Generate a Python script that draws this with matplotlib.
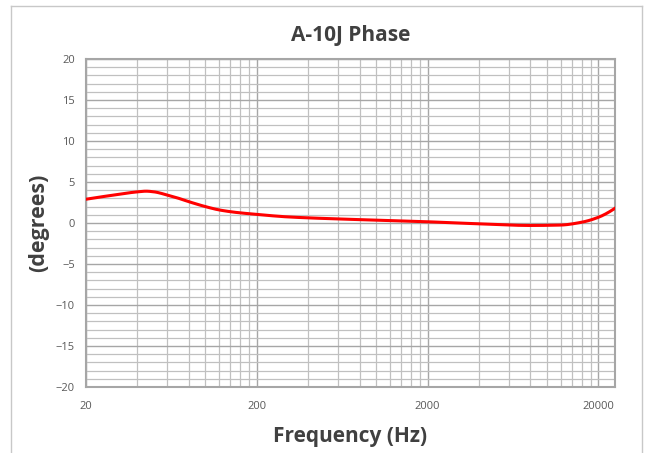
import numpy as np
import matplotlib.pyplot as plt
from matplotlib.lines import Line2D
from matplotlib.ticker import FixedLocator, NullFormatter

# phase response
freq = [20, 30, 40, 45, 50, 60, 70, 80, 100, 120, 150, 200, 300, 500,
        1000, 2000, 4000, 8000, 12000, 16000, 20000, 25000]
phase = [2.9, 3.45, 3.8, 3.88, 3.8, 3.4, 3.0, 2.6, 2.0, 1.6, 1.3, 1.05, 0.75, 0.55,
         0.35, 0.15, -0.1, -0.3, -0.25, 0.1, 0.7, 1.8]

xticks = [20, 200, 2000, 20000]
xticklabels = ["20", "200", "2000", "20000"]
yticks = [-20, -15, -10, -5, 0, 5, 10, 15, 20]

plt.rcParams['font.family'] = ['Open Sans', 'DejaVu Sans']

fig = plt.figure(figsize=(6.46, 4.53), dpi=100)
ax = fig.add_axes([86/646, 1-387/453, (615-86)/646, (387-59)/453])

# smooth curve through the read points (in log-frequency)
lf = np.log10(freq)
xs = np.linspace(lf[0], lf[-1], 400)
try:
    from scipy.interpolate import PchipInterpolator
    ys = PchipInterpolator(lf, phase)(xs)
except ImportError:
    ys = np.interp(xs, lf, phase)
ax.plot(10**xs, ys, color='#ff0000', lw=2.2, zorder=3)

ax.set_xscale('log')
ax.set_xlim(20, 25000)
ax.set_ylim(-20, 20)

# Excel-style grid: minor lines at 20*k per decade, 1 degree steps
minor_x = []
for dec in [20, 200, 2000]:
    for k in range(2, 10):
        minor_x.append(dec * k)
minor_x = [v for v in minor_x if v < 25000]
ax.xaxis.set_major_locator(FixedLocator(xticks))
ax.set_xticklabels(xticklabels)
ax.xaxis.set_minor_locator(FixedLocator(minor_x))
ax.xaxis.set_minor_formatter(NullFormatter())
ax.set_yticks(yticks)
ax.set_yticks(np.arange(-20, 21, 1), minor=True)

ax.grid(True, which='major', color='#a6a6a6', lw=1.0)
ax.grid(True, which='minor', color='#c0c0c0', lw=0.9)
ax.tick_params(which='both', length=0, labelsize=8, colors='#595959', pad=8)
ax.tick_params(axis='x', pad=10)
for s in ax.spines.values():
    s.set_color('#a6a6a6')
    s.set_linewidth(1.5)

ax.set_title('A-10J Phase', fontsize=15, fontweight='bold', color='#404040', pad=13)
ax.set_xlabel('Frequency (Hz)', fontsize=15, fontweight='bold', color='#404040', labelpad=10)
ax.set_ylabel('(degrees)', fontsize=15.5, fontweight='bold', color='#404040', labelpad=5)

# outer chart frame
fc = '#c8c8c8'
fig.add_artist(Line2D([11/646, 11/646], [0, 1-6/453], transform=fig.transFigure, color=fc, lw=1))
fig.add_artist(Line2D([11/646, 642/646], [1-6/453, 1-6/453], transform=fig.transFigure, color=fc, lw=1))
fig.add_artist(Line2D([642/646, 642/646], [0, 1-6/453], transform=fig.transFigure, color=fc, lw=1))

fig.savefig('out.png', dpi=100)
